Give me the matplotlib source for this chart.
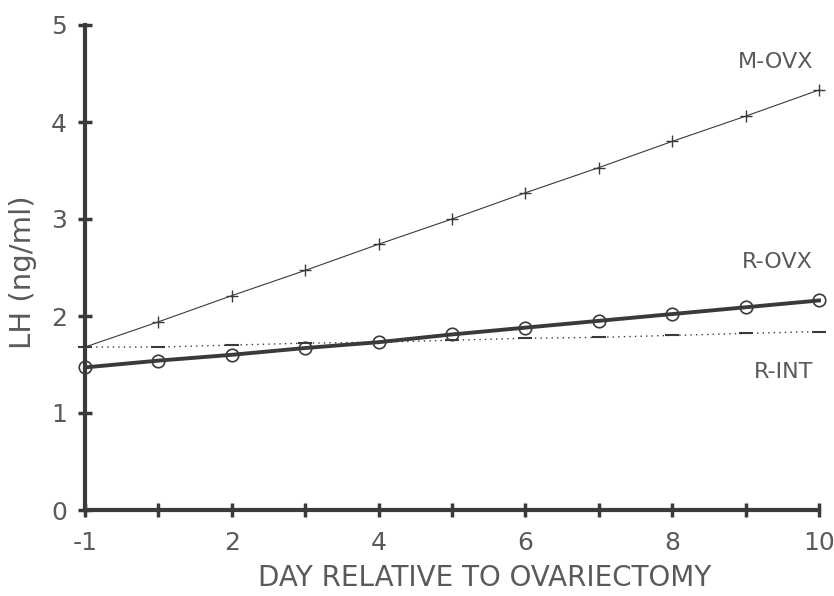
import matplotlib
matplotlib.use('Agg')
import matplotlib.pyplot as plt

# tick positions along the day axis and their labels
positions = [0, 1, 2, 3, 4, 5, 6, 7, 8, 9, 10]
label_pos = [0, 2, 4, 6, 8, 10]
label_txt = ['-1', '2', '4', '6', '8', '10']

# LH values
m_ovx = [1.68, 1.94, 2.21, 2.47, 2.74, 3.00, 3.27, 3.53, 3.80, 4.06, 4.33]
r_ovx = [1.47, 1.54, 1.60, 1.67, 1.73, 1.81, 1.88, 1.95, 2.02, 2.09, 2.16]
r_int = [1.68, 1.68, 1.70, 1.72, 1.73, 1.75, 1.77, 1.78, 1.80, 1.82, 1.84]

plt.rcParams['font.family'] = ['DejaVu Sans']
ink = '#3a3a3a'
txt = '#5a5a5a'

fig = plt.figure(figsize=(8.34, 5.96), dpi=100)
ax = fig.add_axes([85/834, 1 - 510/596, (819 - 85)/834, (510 - 25)/596])

ax.plot(positions, m_ovx, color=ink, lw=0.8, marker='+', markersize=9,
        markeredgewidth=1.0, markevery=list(range(1, 11)), clip_on=False)
ax.plot(positions, r_int, color=ink, lw=1.0, ls=(0, (1, 3)), marker='_',
        markersize=10, markeredgewidth=1.5, clip_on=False)
ax.plot(positions, r_ovx, color=ink, lw=2.8, marker='o', markersize=9,
        markerfacecolor='none', markeredgewidth=1.2, clip_on=False)

ax.text(9.92, 4.62, 'M-OVX', ha='right', va='center', fontsize=16, color=txt)
ax.text(9.92, 2.56, 'R-OVX', ha='right', va='center', fontsize=16, color=txt)
ax.text(9.92, 1.42, 'R-INT', ha='right', va='center', fontsize=16, color=txt)

ax.set_xlim(0, 10)
ax.set_ylim(0, 5)
ax.set_xticks(positions, minor=True)
ax.set_xticks(label_pos)
ax.set_xticklabels(label_txt)
ax.set_yticks([0, 1, 2, 3, 4, 5])

for s in ['top', 'right']:
    ax.spines[s].set_visible(False)
for s in ['left', 'bottom']:
    ax.spines[s].set_linewidth(3)
    ax.spines[s].set_color(ink)

ax.tick_params(which='both', direction='inout', length=10, width=2.5,
               color=ink, labelcolor=txt, labelsize=18)
ax.tick_params(axis='x', pad=10)
ax.tick_params(axis='y', pad=8)

ax.set_xlabel('DAY RELATIVE TO OVARIECTOMY', fontsize=20, color=txt)
ax.xaxis.set_label_coords(0.544, -0.14)
ax.xaxis.label.set_va('center')
ax.set_ylabel('LH (ng/ml)', fontsize=21, color=txt)
ax.yaxis.set_label_coords(-0.084, 0.49)
ax.yaxis.label.set_va('center')

fig.savefig('out.png', dpi=100)
